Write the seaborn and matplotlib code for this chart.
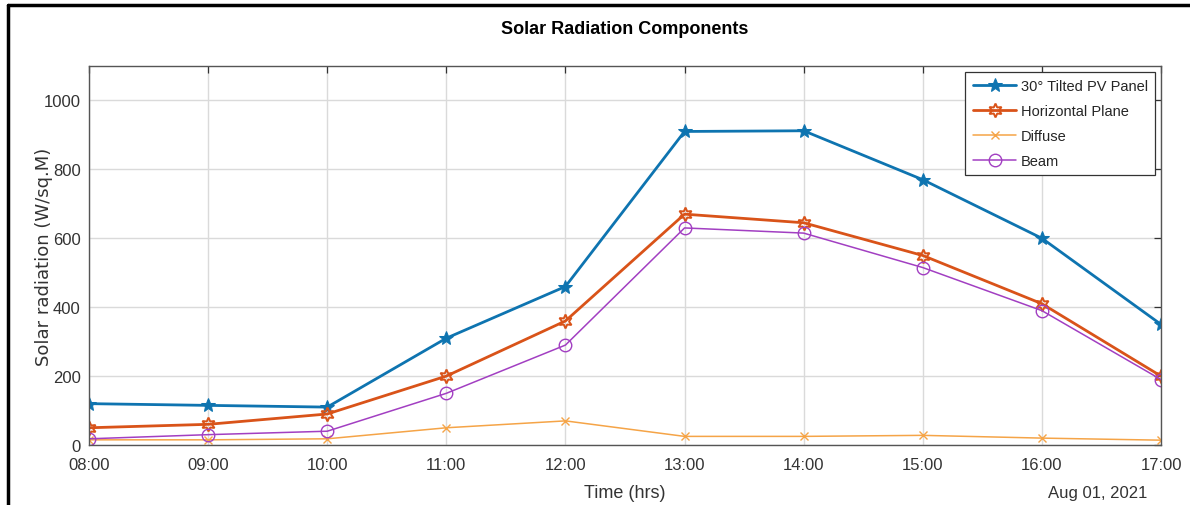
import matplotlib
matplotlib.use("Agg")
import matplotlib.pyplot as plt
from matplotlib.lines import Line2D
import numpy as np
import pandas as pd
import seaborn as sns

# Hourly readings, 08:00 to 17:00
hours = [8, 9, 10, 11, 12, 13, 14, 15, 16, 17]
hour_labels = ["08:00", "09:00", "10:00", "11:00", "12:00",
               "13:00", "14:00", "15:00", "16:00", "17:00"]

tilted_pv = [120, 115, 110, 310, 460, 910, 912, 770, 600, 350]
horizontal = [50, 60, 90, 200, 360, 670, 645, 550, 410, 200]
diffuse = [15, 15, 18, 50, 70, 25, 25, 28, 20, 14]
beam = [18, 30, 40, 150, 290, 630, 615, 515, 390, 190]

series_names = ["30° Tilted PV Panel", "Horizontal Plane", "Diffuse", "Beam"]
series_values = [tilted_pv, horizontal, diffuse, beam]

sns.set_theme(style="white")
plt.rcParams["font.family"] = ["Liberation Sans", "DejaVu Sans"]

fig = plt.figure(figsize=(11.9, 5.06), dpi=100)
ax = fig.add_axes([89 / 1190, 1 - 446 / 506, (1161 - 89) / 1190, (446 - 67) / 506])

styles = [
    dict(color="#0E74B0", marker="*", markersize=10, linewidth=2.0,
         markerfacecolor="#0E74B0", markeredgecolor="#0E74B0"),
    dict(color="#D95319", marker=(6, 1, 0), markersize=10, linewidth=2.0,
         markerfacecolor="none", markeredgecolor="#D95319", markeredgewidth=1.4),
    dict(color="#F5A447", marker="x", markersize=6, linewidth=1.1,
         markeredgecolor="#F5A447", markeredgewidth=1.0),
    dict(color="#A23FC2", marker="o", markersize=9, linewidth=1.1,
         markerfacecolor="none", markeredgecolor="#A23FC2", markeredgewidth=1.0),
]

for name, vals, st in zip(series_names, series_values, styles):
    df = pd.DataFrame({"hour": hours, "value": vals})
    sns.lineplot(data=df, x="hour", y="value", ax=ax, label=name, **st)

ax.set_xlim(8, 17)
ax.set_ylim(0, 1100)
ax.set_xticks(hours)
ax.set_xticklabels(hour_labels)
ax.set_yticks([0, 200, 400, 600, 800, 1000])

ax.grid(True, color="#DADADA", linewidth=1.0)
for s in ax.spines.values():
    s.set_color("#555555")
    s.set_linewidth(1.0)

ax.tick_params(axis="both", direction="in", length=5, width=0.9, colors="#333333",
               labelsize=12, top=True, right=True, labelcolor="#333333")
ax.tick_params(axis="x", pad=9)
ax.tick_params(axis="y", pad=6)

ax.set_xlabel("Time (hrs)", fontsize=13, color="#333333", labelpad=8)
ax.set_ylabel("Solar radiation (W/sq.M)", fontsize=13, color="#333333",
              family=["DejaVu Sans"])
ax.yaxis.set_label_coords(-0.034, 0.5)
ax.set_title("Solar Radiation Components", fontsize=13, fontweight="bold",
             color="black", pad=24)

fig.text(1147 / 1190, 1 - 494 / 506, "Aug 01, 2021", ha="right", va="center",
         fontsize=12, color="#333333")

leg = ax.legend(loc="upper right", frameon=True, fancybox=False, fontsize=10.5,
                borderaxespad=0.4, handlelength=3.0, labelspacing=0.75,
                borderpad=0.5, handletextpad=0.3)
leg.get_frame().set_edgecolor("#333333")
leg.get_frame().set_linewidth(0.9)
leg.get_frame().set_alpha(1)

# outer frame lines along left and top edges
fig.add_artist(Line2D([8 / 1190, 8 / 1190], [0, 1 - 6 / 506], color="black",
                      linewidth=2.5, transform=fig.transFigure))
fig.add_artist(Line2D([8 / 1190, 1], [1 - 6 / 506, 1 - 6 / 506], color="black",
                      linewidth=2.5, transform=fig.transFigure))

fig.savefig("out.png", dpi=100)
